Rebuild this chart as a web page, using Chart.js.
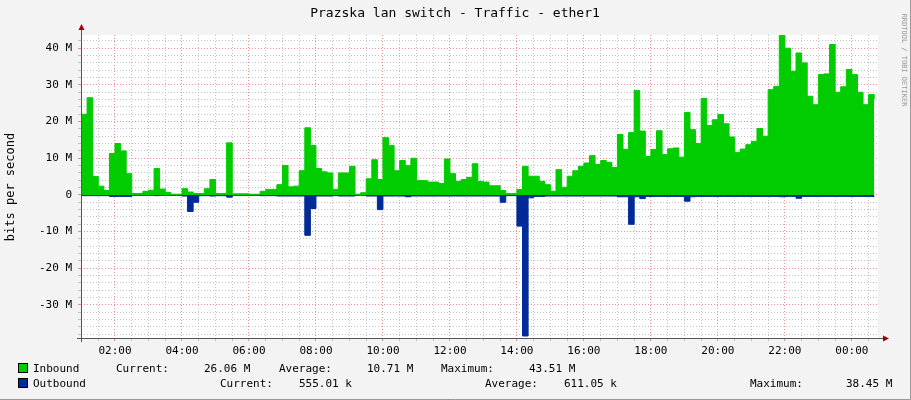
<!DOCTYPE html>
<html><head><meta charset="utf-8">
<script src="https://cdn.jsdelivr.net/npm/chart.js@4"></script>
<style>html,body{margin:0;padding:0;background:#f3f3f3}canvas{display:block}</style>
</head><body><canvas id="c" width="911" height="400"></canvas>
<script>
const startHour = 1.0;
const stepHours = 1/6;
const inbound = [22,26.5,5,2.4,1.2,11.3,14,12,5.8,0.4,0.4,1,1.3,7.2,1.6,0.7,0.2,0.2,1.7,0.8,0.4,0.4,1.7,4.2,0.4,0.4,14.2,0.3,0.3,0.3,0.2,0.2,1,1.5,1.5,2.8,
8,2.2,2.4,6.6,18.3,13.5,7.2,6.3,6,1.5,6,6,7.8,0.2,0.6,4.4,9.6,4.2,15.6,13.5,6.6,9.4,8,10,3.9,3.9,3.5,3.5,3.1,9.8,5.8,3.7,4.2,4.8,8.5,3.7,
3.5,2.5,2.5,1.2,0.4,0.4,1.5,7.8,5.1,5.1,3.7,2.8,1,6.9,2.1,5.1,6.6,7.8,8.7,10.7,8.3,9.4,8.9,7.5,16.5,12.4,17,28.5,17.4,10.5,12.4,17.5,11,12.6,12.8,10.3,
22.5,17.8,14,26.3,18.9,20.5,21.9,19.4,15.8,11.6,12.5,13.7,14.6,18.1,16,28.7,29.6,43.5,40,33.7,38.7,36,26.9,24.6,32.8,33,41,28,29.5,34.2,32.8,28,24.6,27.4,26.06];
const outbound = [-0.2,-0.2,-0.2,-0.2,-0.2,-0.4,-0.4,-0.4,-0.4,-0.1,-0.1,-0.1,-0.1,-0.2,-0.1,-0.1,-0.1,-0.1,-0.3,-4.5,-2,-0.2,-0.2,-0.3,-0.2,-0.2,-0.6,-0.1,-0.1,-0.1,-0.1,-0.1,-0.2,-0.2,-0.2,-0.3,
-0.3,-0.3,-0.3,-0.3,-11,-3.7,-0.3,-0.3,-0.3,-0.2,-0.3,-0.3,-0.3,-0.1,-0.1,-0.3,-0.3,-4,-0.3,-0.3,-0.3,-0.3,-0.5,-0.3,-0.3,-0.3,-0.3,-0.3,-0.3,-0.3,-0.3,-0.3,-0.3,-0.3,-0.3,-0.3,
-0.3,-0.3,-0.3,-2,-0.2,-0.2,-8.5,-38.45,-0.8,-0.4,-0.4,-0.3,-0.3,-0.3,-0.3,-0.3,-0.3,-0.3,-0.3,-0.3,-0.3,-0.3,-0.3,-0.3,-0.5,-0.5,-8,-0.5,-1,-0.4,-0.4,-0.4,-0.4,-0.4,-0.4,-0.4,
-1.7,-0.5,-0.4,-0.4,-0.4,-0.4,-0.4,-0.4,-0.4,-0.4,-0.4,-0.4,-0.4,-0.4,-0.4,-0.4,-0.4,-0.5,-0.4,-0.4,-0.9,-0.4,-0.4,-0.4,-0.4,-0.4,-0.4,-0.4,-0.4,-0.4,-0.4,-0.4,-0.4,-0.4,-0.555];
const xMin = 0.985, xMax = 24.78, yMin = -39, yMax = 43.6;
const title = "Prazska lan switch - Traffic - ether1";
const legendRows = [
  [["Inbound",33],["Current:",116],["26.06 M",204],["Average:",279],["10.71 M",367],["Maximum:",441],["43.51 M",529]],
  [["Outbound",33],["Current:",220],["555.01 k",299],["Average:",485],["611.05 k",564],["Maximum:",750],["38.45 M",846]]
];
const legendColors = ["#00cc00","#002a97"];

const toPts = arr => arr.map((v,i)=>({x:startHour+i*stepHours,y:v}));
const mono = "'DejaVu Sans Mono', monospace";

const deco = {
  id:'deco',
  beforeDraw(ch){
    const c=ch.ctx, a=ch.chartArea;
    c.save();
    c.fillStyle='#f3f3f3'; c.fillRect(0,0,ch.width,ch.height);
    c.fillStyle='#ffffff'; c.fillRect(a.left,a.top,a.right-a.left,a.bottom-a.top);
    c.restore();
  },
  afterDraw(ch){
    const c=ch.ctx, a=ch.chartArea;
    c.save();
    // axes
    c.strokeStyle='#555'; c.lineWidth=1;
    const y0=Math.round(ch.scales.y.getPixelForValue(yMin))+0.5;
    c.beginPath(); c.moveTo(a.left+0.5,a.top-8); c.lineTo(a.left+0.5,a.bottom+4);
    c.moveTo(a.left-4,a.bottom+0.5); c.lineTo(a.right+6,a.bottom+0.5); c.stroke();
    c.fillStyle='#a00000';
    c.beginPath(); c.moveTo(a.left-2.5,a.top-5); c.lineTo(a.left+3.5,a.top-5); c.lineTo(a.left+0.5,a.top-11); c.fill();
    c.beginPath(); c.moveTo(a.right+5,a.bottom-2.5); c.lineTo(a.right+5,a.bottom+3.5); c.lineTo(a.right+11,a.bottom+0.5); c.fill();
    // title
    c.fillStyle='#000'; c.font="13px "+mono; c.textAlign='center'; c.textBaseline='middle';
    c.fillText(title,455,14);
    c.save(); c.translate(11,187); c.rotate(-Math.PI/2); c.font="12px "+mono; c.fillText("bits per second",0,0); c.restore();
    c.save(); c.translate(904,60); c.rotate(Math.PI/2); c.font="7px "+mono; c.fillStyle='#999'; c.fillText("RRDTOOL / TOBI OETIKER",0,0); c.restore();
    // legend
    c.textAlign='left'; c.font="11px "+mono; c.fillStyle='#000';
    legendRows.forEach((row,r)=>{
      const y=369+r*15;
      c.fillStyle=legendColors[r]; c.fillRect(18,y-5,9,9);
      c.strokeStyle='#000'; c.strokeRect(18.5,y-5.5,9,9);
      c.fillStyle='#000';
      row.forEach(([t,x])=>c.fillText(t,x,y));
    });
    // frame
    c.strokeStyle='#999'; c.beginPath(); c.moveTo(910.5,0); c.lineTo(910.5,399.5); c.lineTo(0,399.5); c.stroke();
    c.restore();
  }
};

new Chart(document.getElementById('c'),{
  type:'line',
  data:{datasets:[
    {data:toPts(inbound),stepped:'before',fill:'origin',backgroundColor:'#00cc00',borderColor:'#00cc00',borderWidth:1,pointRadius:0},
    {data:toPts(outbound),stepped:'before',fill:'origin',backgroundColor:'#002a97',borderColor:'#002a97',borderWidth:1,pointRadius:0}
  ]},
  options:{
    responsive:false,animation:false,
    layout:{padding:{top:35,right:33,left:0,bottom:0}},
    plugins:{legend:{display:false},tooltip:{enabled:false}},
    scales:{
      x:{type:'linear',min:xMin,max:xMax,
        afterBuildTicks(s){const t=[];for(let h=1;h<=24.5;h+=0.5)t.push({value:h});s.ticks=t;},
        afterFit(s){s.height=62;},
        ticks:{autoSkip:false,maxRotation:0,padding:4,color:'#000',font:{family:mono,size:11},
          callback:v=>(Math.abs(v%2)<1e-6)?String(v%24).padStart(2,'0')+':00':''},
        grid:{drawTicks:true,tickLength:3,color:c=>(c.tick&&Math.abs(c.tick.value%2)<1e-6)?'rgba(230,120,120,0.8)':'rgba(180,180,180,0.8)'},
        border:{display:false,dash:[1,2]}},
      y:{min:yMin,max:yMax,
        afterBuildTicks(s){const t=[];for(let v=-38;v<=42;v+=2)t.push({value:v});s.ticks=t;},
        afterFit(s){s.width=81;},
        ticks:{autoSkip:false,padding:6,color:'#000',font:{family:mono,size:11},
          callback:v=>(v%10===0)?(v===0?'0':v+' M'):''},
        grid:{drawTicks:true,tickLength:3,color:c=>(c.tick&&c.tick.value%10===0)?'rgba(230,120,120,0.8)':'rgba(180,180,180,0.8)'},
        border:{display:false,dash:[1,2]}}
    }
  },
  plugins:[deco]
});
</script></body></html>
